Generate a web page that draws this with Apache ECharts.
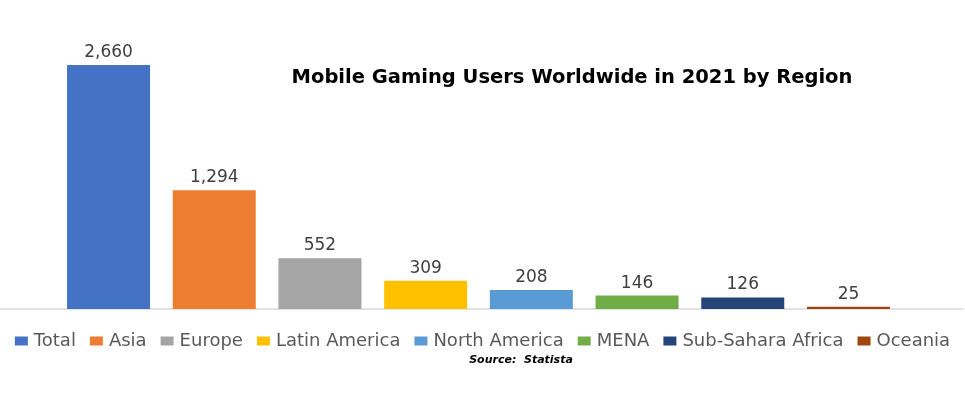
<!DOCTYPE html>
<html><head><meta charset="utf-8">
<script src="https://cdn.jsdelivr.net/npm/echarts@6/dist/echarts.min.js"></script>
<style>html,body{margin:0;padding:0;background:#fff}#c{width:965px;height:415px}</style>
</head><body><div id="c"></div>
<script>
const categories = ['Total','Asia','Europe','Latin America','North America','MENA','Sub-Sahara Africa','Oceania'];
const values = [2660,1294,552,309,208,146,126,25];
const colors = ['#4472C4','#ED7D31','#A5A5A5','#FFC000','#5B9BD5','#70AD47','#264478','#9E480E'];
const titleText = 'Mobile Gaming Users Worldwide in 2021 by Region';
const sourceText = 'Source:  Statista';

const series = categories.map((name, i) => ({
  name, type: 'bar', stack: 'all', barWidth: 83,
  xAxisIndex: 0, yAxisIndex: 0,
  itemStyle: { color: colors[i] },
  data: categories.map((c, j) => j === i ? values[i] : null),
  label: { show: true, position: 'top', distance: 4, color: '#404040',
    fontFamily: 'DejaVu Sans', fontSize: 17,
    formatter: p => p.value.toLocaleString('en-US') }
}));

const chart = echarts.init(document.getElementById('c'), null, {renderer: 'canvas'});
chart.setOption({
  animation: false,
  color: colors,
  title: [
    { text: titleText, left: 567, top: 63, textAlign: 'center',
      textStyle: { fontFamily: 'DejaVu Sans', fontWeight: 'bold', fontSize: 19.5, color: '#000' } },
    { text: sourceText, left: 516, top: 350, textAlign: 'center',
      textStyle: { fontFamily: 'DejaVu Sans', fontStyle: 'italic', fontWeight: 'bold', fontSize: 11, color: '#000' } }
  ],
  legend: {
    data: categories, top: 327, left: 'center', itemWidth: 13, itemHeight: 9, itemGap: 14,
    icon: 'rect',
    textStyle: { fontFamily: 'DejaVu Sans', fontSize: 18, color: '#595959', padding: [0,0,0,1] }
  },
  grid: [
    { left: 55.7, right: 63.7, top: 33.8, bottom: 106 },
    { left: 0, right: 2, top: 33.8, bottom: 106 }
  ],
  xAxis: [
    { type: 'category', data: categories, gridIndex: 0, axisLine: { show: false }, axisTick: { show: false }, axisLabel: { show: false } },
    { type: 'value', gridIndex: 1, min: 0, max: 1, axisLine: { show: true, lineStyle: { color: '#d9d9d9', width: 1.5 } },
      axisTick: { show: false }, axisLabel: { show: false }, splitLine: { show: false } }
  ],
  yAxis: [
    { type: 'value', gridIndex: 0, min: 0, max: 3000, show: false, splitLine: { show: false } },
    { type: 'value', gridIndex: 1, min: 0, max: 1, show: false, splitLine: { show: false } }
  ],
  series
});
</script></body></html>
